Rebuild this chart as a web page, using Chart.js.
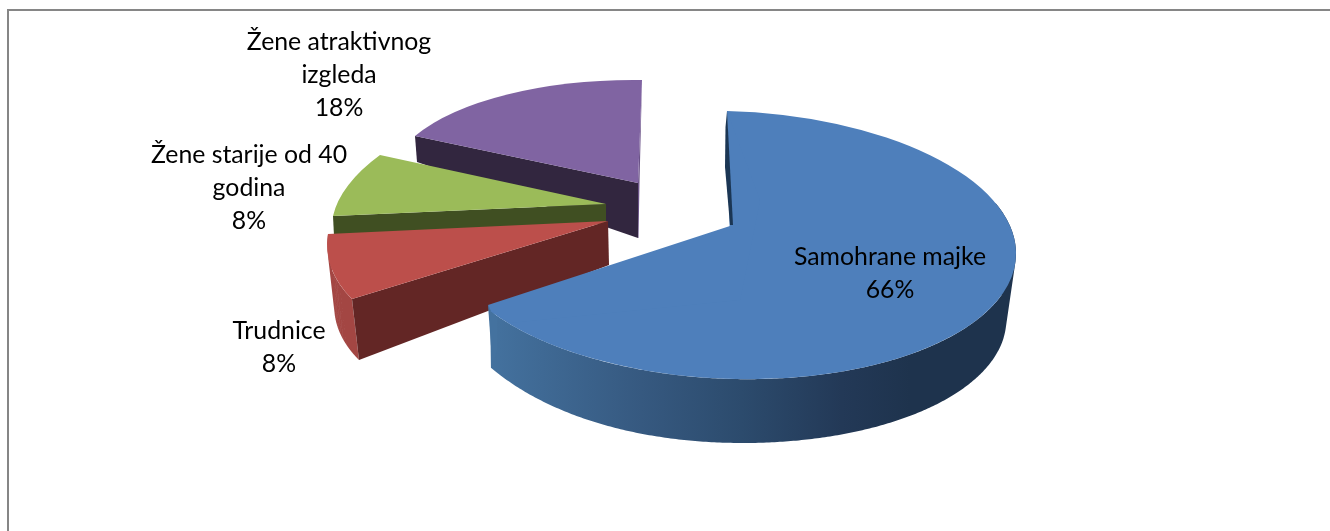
<!DOCTYPE html>
<html>
<head>
<meta charset="utf-8">
<style>
html,body{margin:0;padding:0;background:#fff;overflow:hidden}
#wrap{position:relative;width:1330px;height:531px}
#frame{position:absolute;left:7px;top:9px;right:0;bottom:0;border-top:2px solid #868686;border-left:2px solid #868686;box-sizing:border-box;pointer-events:none}
canvas{position:absolute;left:0;top:0}
</style>
<script src="https://cdn.jsdelivr.net/npm/chart.js@4"></script>
</head>
<body>
<div id="wrap"><canvas id="c" width="1330" height="531"></canvas><div id="frame"></div></div>
<script>
const categories = ['Samohrane majke', 'Trudnice', 'Žene starije od 40 godina', 'Žene atraktivnog izgleda'];
const values = [66, 8, 8, 18];
const labelLines = [['Samohrane majke'], ['Trudnice'], ['Žene starije od 40', 'godina'], ['Žene atraktivnog', 'izgleda']];
const topColors = ['#4E7FBB', '#BC4F4B', '#9BBB59', '#8064A2'];

// Layout of the 3D projection, one entry per slice (pixels on the page)
const blueShape = {center:[730,245], col1:[286,7], col2:[3,134], apex:[733,225],
  startPt:[727,111], endPt:[488,305], innerPts:[[491,311],[510,323],[740,300],[760,200]],
  wallCenter:[726,311.5], wallScale:0.98, wallWarp:14, wallSkip:1.2,
  cornerPts:[[488,305],[497,318],[497,350],[492.5,367]], cornerFill:'#44729f',
  faces:[{pts:[[727,111],[725.5,127],[725,167],[730,225],[733,225]], fill:'#1b3654'}]};
const redShape = {apex:[608,221], p1:[352,299], p2:[328,234],
  wallShift:[7,61], wallFill:'#a34643',
  faces:[{pts:[[608,221],[352,299],[359,360],[609,265]], fill:'#632625'}]};
const greenShape = {apex:[606,204], p1:[333,216], p2:[380,155],
  faces:[{pts:[[606,204],[333,216],[334,236],[606,224]], fill:'#404f22'}]};
const purpleShape = {apex:[638,183], p1:[415,136], p2:[642,80],
  faces:[{pts:[[638,183],[415,136],[417,162],[638,238]], fill:'#32263f'},
         {pts:[[642,80],[639.5,183],[638.5,238],[638,238],[638,183]], fill:'#6a5287'}]};
const shapes = [blueShape, redShape, greenShape, purpleShape];
const drawOrder = [3, 2, 1, 0];
const labelAnchors = [[890,257],[279,331],[249,155],[339,42]];
const lineHeight = 33;

function poly(ctx, pts, fill){
  ctx.beginPath();
  pts.forEach((p,i)=> i ? ctx.lineTo(p[0],p[1]) : ctx.moveTo(p[0],p[1]));
  ctx.closePath();
  ctx.fillStyle = fill; ctx.fill();
}
function matrixFor(s, a1, a2){
  const c1=Math.cos(a1), s1=Math.sin(a1), c2=Math.cos(a2), s2=Math.sin(a2);
  const det=c1*s2-c2*s1;
  const u=[s.p1[0]-s.apex[0], s.p1[1]-s.apex[1]], v=[s.p2[0]-s.apex[0], s.p2[1]-s.apex[1]];
  return {center:s.apex,
    col1:[(u[0]*s2-v[0]*s1)/det, (u[1]*s2-v[1]*s1)/det],
    col2:[(v[0]*c1-u[0]*c2)/det, (v[1]*c1-u[1]*c2)/det]};
}
function pt(m, a, k, c, warp){
  const ce=c||m.center, f=k||1, co=Math.cos(a);
  const lift = warp && co<0 ? warp*Math.pow(-co,3) : 0;
  return [ce[0]+f*(m.col1[0]*co+m.col2[0]*Math.sin(a)),
          ce[1]+f*(m.col1[1]*co+m.col2[1]*Math.sin(a))-lift];
}
function area(q){
  let s=0;
  for(let i=0;i<q.length;i++){const a=q[i],b=q[(i+1)%q.length];s+=a[0]*b[1]-b[0]*a[1];}
  return s;
}
function drawWall(ctx, m, s, a1, a2){
  const n=300;
  let fill=s.wallFill;
  if(!fill){
    fill=ctx.createLinearGradient(488,0,1016,0);
    fill.addColorStop(0,'#44729f');
    fill.addColorStop(0.29,'#365980');
    fill.addColorStop(0.48,'#2c4b6d');
    fill.addColorStop(0.67,'#233957');
    fill.addColorStop(0.8,'#1e334d');
    fill.addColorStop(1,'#1e334d');
  }
  const wc = s.wallCenter || [m.center[0]+s.wallShift[0], m.center[1]+s.wallShift[1]];
  const wk = s.wallScale || 1, from=a1+(s.wallSkip||0);
  ctx.beginPath();
  for(let i=0;i<n;i++){
    const t1=from+(a2-from)*i/n, t2=from+(a2-from)*(i+1)/n;
    let q=[pt(m,t1),pt(m,t2),pt(m,t2,wk,wc,s.wallWarp),pt(m,t1,wk,wc,s.wallWarp)];
    if(area(q)<0) q=q.reverse();
    ctx.moveTo(q[0][0],q[0][1]);
    for(let j=1;j<4;j++) ctx.lineTo(q[j][0],q[j][1]);
    ctx.closePath();
  }
  ctx.fillStyle=fill; ctx.fill('nonzero');
}
const pie3d = {
  id:'pie3d',
  beforeDatasetDraw(chart, args){
    const ctx=chart.ctx, meta=args.meta;
    drawOrder.forEach(i=>{
      const arc=meta.data[i], s=shapes[i];
      const p=arc.getProps(['x','y','startAngle','endAngle','outerRadius'],true);
      const m=s.col1 ? s : matrixFor(s,p.startAngle,p.endAngle);
      if(s.wallFill||s.wallCenter) drawWall(ctx,m,s,p.startAngle,p.endAngle);
      if(s.cornerPts) poly(ctx,s.cornerPts,s.cornerFill);
      if(i!==0) s.faces.forEach(f=>poly(ctx,f.pts,f.fill));
      const R=p.outerRadius;
      ctx.save();
      ctx.translate(m.center[0],m.center[1]);
      ctx.transform(m.col1[0]/R,m.col1[1]/R,m.col2[0]/R,m.col2[1]/R,0,0);
      ctx.translate(-p.x,-p.y);
      arc.draw(ctx);
      ctx.restore();
      if(i===0){
        poly(ctx,[s.startPt,s.apex,s.endPt].concat(s.innerPts),topColors[0]);
        s.faces.forEach(f=>poly(ctx,f.pts,f.fill));
      }
    });
    return false;
  },
  afterDraw(chart){
    const ctx=chart.ctx;
    ctx.save();
    ctx.font='24.8px Lato';
    ctx.fillStyle='#000';
    ctx.textAlign='center';
    ctx.textBaseline='middle';
    labelLines.forEach((lines,i)=>{
      const all=lines.concat([values[i]+'%']);
      all.forEach((t,k)=>ctx.fillText(t,labelAnchors[i][0],labelAnchors[i][1]+k*lineHeight));
    });
    ctx.restore();
  }
};
new Chart(document.getElementById('c'),{
  type:'pie',
  data:{labels:categories,datasets:[{data:values,backgroundColor:topColors,borderWidth:0,hoverOffset:0}]},
  options:{responsive:false,animation:false,events:[],
    plugins:{legend:{display:false},tooltip:{enabled:false},title:{display:false}}},
  plugins:[pie3d]
});
</script>
</body>
</html>
